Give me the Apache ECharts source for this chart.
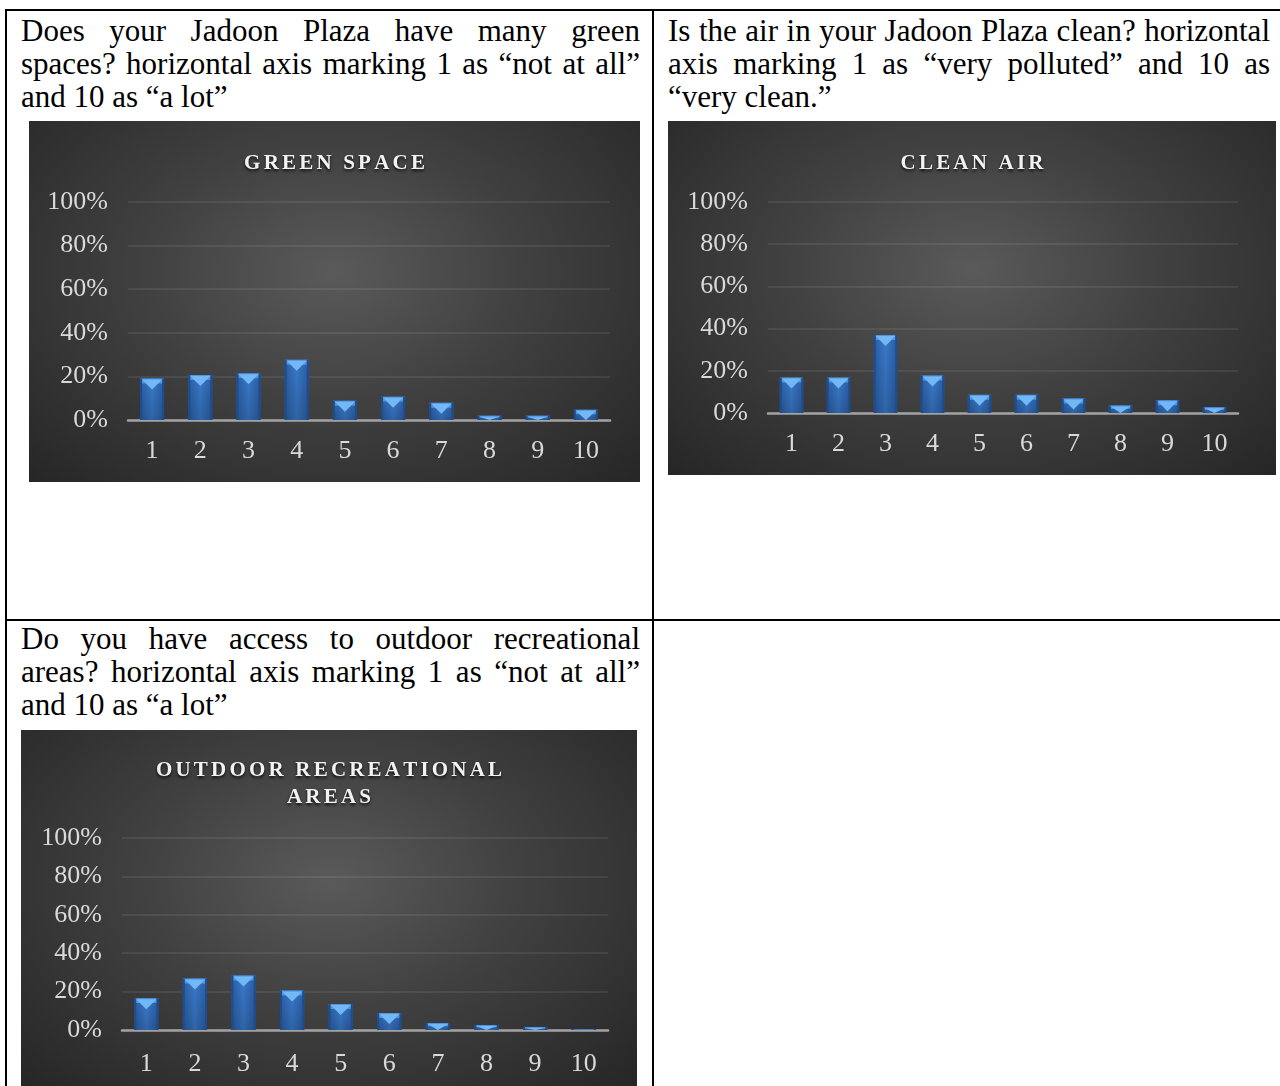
<!DOCTYPE html>
<html>
<head>
<meta charset="utf-8">
<script src="https://cdn.jsdelivr.net/npm/echarts@6/dist/echarts.min.js"></script>
<style>
  html, body { margin: 0; padding: 0; background: #fff; }
  body { width: 1280px; height: 1086px; position: relative; overflow: hidden; }
  .ln { position: absolute; background: #000; }
  .q { position: absolute; font-family: "Liberation Serif", "Times New Roman", serif; font-size: 31px; line-height: 33px; color: #000; }
  .q div { text-align: justify; text-align-last: justify; white-space: nowrap; }
  .q div.last { text-align: left; text-align-last: left; }
  .chart { position: absolute; background: radial-gradient(ellipse at 50% 42%, #5a5a5a 0%, #404040 45%, #262626 100%); }
</style>
</head>
<body>
<div class="ln" style="left:5px;top:9px;width:1275px;height:2px"></div>
<div class="ln" style="left:5px;top:9px;width:2px;height:1077px"></div>
<div class="ln" style="left:652px;top:9px;width:2px;height:1077px"></div>
<div class="ln" style="left:5px;top:619px;width:1275px;height:2px"></div>

<div class="q" id="q1" style="left:21px;top:14px;width:619px"></div>
<div class="q" id="q2" style="left:668px;top:14px;width:602px"></div>
<div class="q" id="q3" style="left:21px;top:622px;width:619px"></div>

<div class="chart" id="c1" style="left:29px;top:121px;width:611px;height:361px"></div>
<div class="chart" id="c2" style="left:668px;top:121px;width:608px;height:354px"></div>
<div class="chart" id="c3" style="left:21px;top:730px;width:616px;height:356px"></div>

<script>
// ---- data ----
const categories = ['1', '2', '3', '4', '5', '6', '7', '8', '9', '10'];
const greenSpace = [19, 20.6, 21.5, 27.6, 8.8, 10.7, 7.9, 2, 2, 4.7];
const cleanAir = [16.8, 16.8, 37, 17.8, 8.6, 8.6, 6.9, 3.6, 6, 2.7];
const outdoorAreas = [16.6, 26.8, 28.4, 20.6, 13.5, 8.8, 3.6, 2.6, 1.6, 0.5];
const yTickValues = [0, 20, 40, 60, 80, 100];
const titles = ['GREEN SPACE', 'CLEAN AIR', 'OUTDOOR RECREATIONAL\nAREAS'];
const questions = [
  ['Does your Jadoon Plaza have many green', 'spaces? horizontal axis marking 1 as \u201cnot at all\u201d', 'and 10 as \u201ca lot\u201d'],
  ['Is the air in your Jadoon Plaza clean? horizontal', 'axis marking 1 as \u201cvery polluted\u201d and 10 as', '\u201cvery clean.\u201d'],
  ['Do you have access to outdoor recreational', 'areas? horizontal axis marking 1 as \u201cnot at all\u201d', 'and 10 as \u201ca lot\u201d']
];

// ---- question text ----
['q1', 'q2', 'q3'].forEach((id, k) => {
  const el = document.getElementById(id);
  questions[k].forEach((t, i) => {
    const d = document.createElement('div');
    d.textContent = t;
    if (i === questions[k].length - 1) d.className = 'last';
    el.appendChild(d);
  });
});

// ---- bevelled bar ----
function bevelBar(params, api) {
  const idx = api.value(0);
  const v = api.value(1);
  const top = api.coord([idx, v]);
  const base = api.coord([idx, 0]);
  const bw = api.size([1, 0])[0] * 0.5;
  const x0 = top[0] - bw / 2;
  const y0 = top[1];
  const h = Math.max(base[1] - y0, 0);
  const bev = Math.min(11, h);
  const side = Math.min(2, bw * 0.1);
  return {
    type: 'group',
    children: [
      { type: 'rect', shape: { x: x0, y: y0, width: bw, height: h },
        style: { fill: new echarts.graphic.LinearGradient(0, 0, 1, 0, [
          { offset: 0, color: '#2a5ea6' }, { offset: 0.5, color: '#3a7acb' }, { offset: 1, color: '#2a5ea6' }]) } },
      { type: 'rect', shape: { x: x0, y: y0, width: bw, height: h },
        style: { fill: new echarts.graphic.LinearGradient(0, 0, 0, 1, [
          { offset: 0, color: 'rgba(0,0,0,0)' }, { offset: 1, color: 'rgba(0,0,0,0.18)' }]) } },
      { type: 'polygon', shape: { points: [[x0, y0], [x0 + bw, y0], [x0 + bw - side, y0 + bev * 0.45], [x0 + side, y0 + bev * 0.45]] },
        style: { fill: '#4f95e2' } },
      { type: 'polygon', shape: { points: [[x0 + side, y0 + 1], [x0 + bw - side, y0 + 1], [x0 + bw / 2, y0 + bev]] },
        style: { fill: '#72b8f6' } },
      { type: 'rect', shape: { x: x0, y: y0, width: side, height: h }, style: { fill: '#1f4d8c' } },
      { type: 'rect', shape: { x: x0 + bw - side, y: y0, width: side, height: h }, style: { fill: '#1f4d8c' } }
    ]
  };
}

function titleRich(t) {
  return t.split('\n').map(line => line.split('').map(c => '{s|' + c + '}').join('')).join('\n');
}

function makeOption(title, values, grid, titleTop, labelMargin) {
  return {
    animation: false,
    backgroundColor: 'transparent',
    title: {
      text: titleRich(title),
      left: 'center',
      top: titleTop,
      textStyle: {
        rich: {
          s: {
            fontFamily: 'Liberation Serif', fontWeight: 'bold', fontSize: 21,
            color: '#f2f2f2', padding: [0, 1.6], lineHeight: 27,
            textShadowColor: 'rgba(0,0,0,0.8)', textShadowBlur: 3, textShadowOffsetY: 2
          }
        }
      }
    },
    grid: grid,
    xAxis: {
      type: 'category',
      data: categories,
      axisLine: { show: true, lineStyle: { color: '#a3a3a3', width: 2.5 } },
      axisTick: { show: false },
      axisLabel: { color: '#d9d9d9', fontFamily: 'Liberation Serif', fontSize: 26, margin: labelMargin }
    },
    yAxis: {
      type: 'value',
      min: yTickValues[0],
      max: yTickValues[yTickValues.length - 1],
      interval: yTickValues[1] - yTickValues[0],
      axisLine: { show: false },
      axisTick: { show: false },
      splitLine: { lineStyle: { color: 'rgba(255,255,255,0.1)', width: 1.5 } },
      axisLabel: { color: '#d9d9d9', fontFamily: 'Liberation Serif', fontSize: 26, margin: 20, formatter: '{value}%' }
    },
    series: [{
      type: 'custom',
      renderItem: bevelBar,
      encode: { x: 0, y: 1 },
      data: values.map((v, i) => [i, v])
    }]
  };
}

const c1 = echarts.init(document.getElementById('c1'));
c1.setOption(makeOption(titles[0], greenSpace, { left: 99, right: 30, top: 81, bottom: 62 }, 24, 18));
const c2 = echarts.init(document.getElementById('c2'));
c2.setOption(makeOption(titles[1], cleanAir, { left: 100, right: 38, top: 81, bottom: 62 }, 24, 18));
const c3 = echarts.init(document.getElementById('c3'));
c3.setOption(makeOption(titles[2], outdoorAreas, { left: 101, right: 29, top: 108, bottom: 56 }, 22, 21));
</script>
</body>
</html>
